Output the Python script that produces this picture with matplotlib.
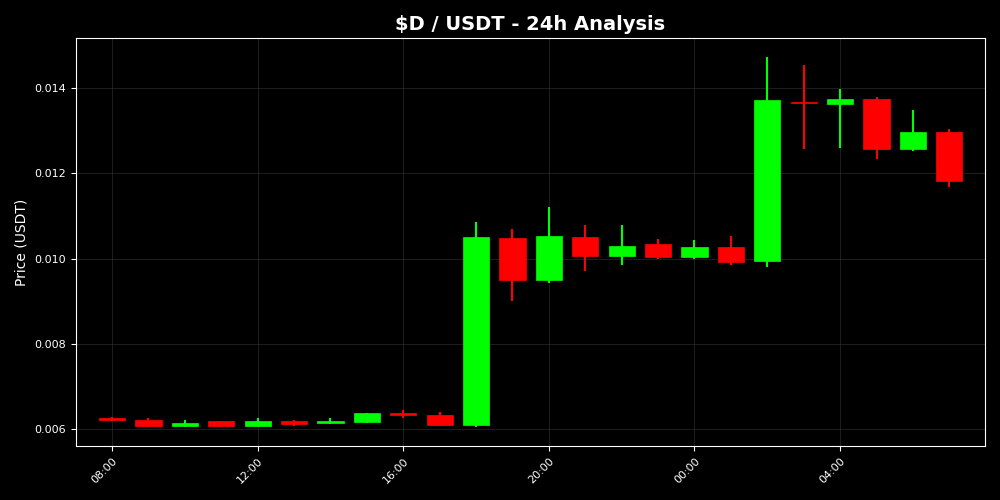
import matplotlib
matplotlib.use("Agg")
import matplotlib.pyplot as plt
import matplotlib.dates as mdates
import numpy as np
import pandas as pd

times = pd.date_range("2024-01-01 08:00", periods=24, freq="h")
opens  = [0.00627, 0.00622, 0.00608, 0.00618, 0.00608, 0.00618, 0.00615, 0.00617,
          0.00637, 0.00634, 0.00610, 0.01049, 0.00950, 0.01051, 0.01006, 0.01035,
          0.01003, 0.01028, 0.00995, 0.01365, 0.01362, 0.01375, 0.01257, 0.01296]
highs  = [0.00629, 0.00627, 0.00622, 0.00620, 0.00626, 0.00622, 0.00626, 0.00639,
          0.00644, 0.00640, 0.01086, 0.01069, 0.01121, 0.01078, 0.01078, 0.01046,
          0.01043, 0.01053, 0.01474, 0.01453, 0.01397, 0.01380, 0.01348, 0.01305]
lows   = [0.00619, 0.00606, 0.00606, 0.00606, 0.00604, 0.00608, 0.00611, 0.00615,
          0.00626, 0.00608, 0.00606, 0.00901, 0.00943, 0.00971, 0.00985, 0.00999,
          0.01000, 0.00985, 0.00981, 0.01257, 0.01259, 0.01233, 0.01252, 0.01168]
closes = [0.00622, 0.00608, 0.00615, 0.00608, 0.00619, 0.00613, 0.00620, 0.00637,
          0.00633, 0.00610, 0.01051, 0.00950, 0.01053, 0.01006, 0.01030, 0.01003,
          0.01028, 0.00993, 0.01371, 0.01364, 0.01375, 0.01257, 0.01296, 0.01182]

UP = "#00ff00"
DOWN = "#ff0000"

fig = plt.figure(figsize=(10, 5), dpi=100, facecolor="black")
ax = fig.add_axes([0.076, 0.108, 0.909, 0.816], facecolor="black")

x = mdates.date2num(times)
hour = 1.0 / 24
width = 0.72 * hour
for xi, o, h, l, c in zip(x, opens, highs, lows, closes):
    col = UP if c >= o else DOWN
    ax.vlines(xi, l, h, color=col, linewidth=1.5, zorder=2)
    bottom = min(o, c)
    height = max(abs(c - o), 0.00004)
    ax.bar(xi, height, bottom=bottom, width=width, color=col, edgecolor=col,
           linewidth=0.5, zorder=3)

ax.set_xlim(x[0] - 0.99 * hour, x[-1] + 0.98 * hour)
ax.margins(y=0.05)
ax.xaxis.set_major_locator(mdates.HourLocator(byhour=range(0, 24, 4)))
ax.xaxis.set_major_formatter(mdates.DateFormatter("%H:%M"))
ax.set_yticks([0.006, 0.008, 0.010, 0.012, 0.014])
ax.yaxis.set_major_formatter(matplotlib.ticker.FormatStrFormatter("%.3f"))

ax.grid(True, color="#3a3a3a", linewidth=0.6, alpha=0.6, linestyle="-")
ax.set_axisbelow(True)
for s in ax.spines.values():
    s.set_color("white")
ax.tick_params(colors="white", labelsize=8)
plt.setp(ax.get_xticklabels(), rotation=45, ha="right", rotation_mode="anchor")
ax.set_ylabel("Price (USDT)", color="white", fontsize=10)
ax.set_title("\\$D / USDT - 24h Analysis", color="white", fontsize=14,
             fontweight="bold")

fig.savefig("out.png", dpi=100, facecolor="black")
